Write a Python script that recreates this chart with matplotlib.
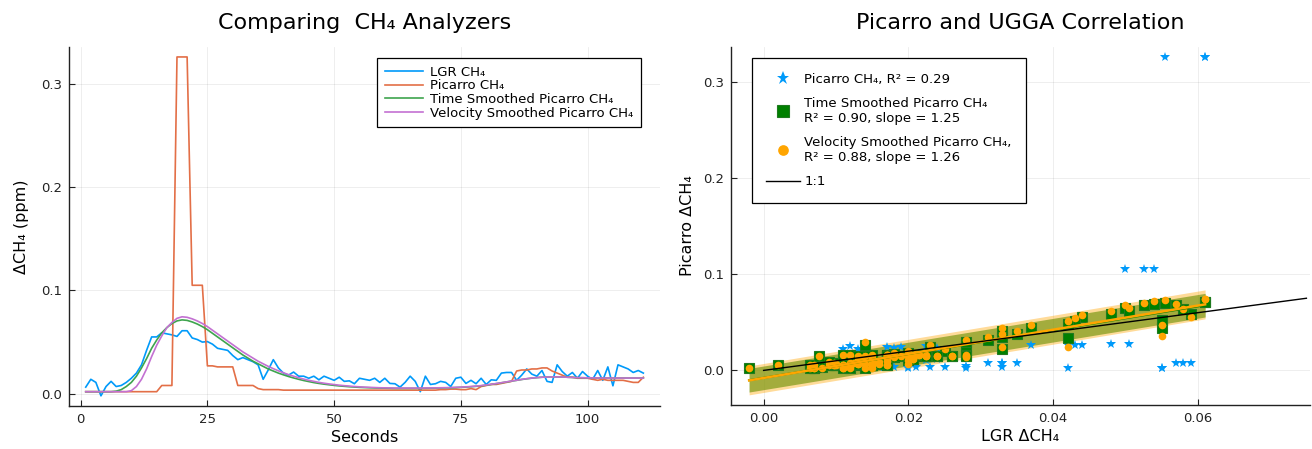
import numpy as np
import matplotlib
matplotlib.use('Agg')
import matplotlib.pyplot as plt

plt.rcParams['font.family'] = ['DejaVu Sans']

# seconds since start of the plume
seconds = np.arange(1, 112)

lgr = [0.0064, 0.014, 0.011, -0.002, 0.007, 0.012, 0.007, 0.008, 0.011, 0.015,
       0.02, 0.028, 0.042, 0.055, 0.055, 0.059, 0.058, 0.057, 0.0555, 0.061,
       0.061, 0.054, 0.0525, 0.05, 0.0505, 0.048, 0.044, 0.043, 0.042, 0.037,
       0.033, 0.035, 0.033, 0.031, 0.028, 0.014, 0.023, 0.033, 0.025, 0.02,
       0.018, 0.021, 0.017, 0.017, 0.015, 0.017, 0.0135, 0.017, 0.015, 0.013,
       0.016, 0.012, 0.0125, 0.0097, 0.015, 0.014, 0.013, 0.015, 0.011, 0.015,
       0.01, 0.0097, 0.0064, 0.011, 0.017, 0.012, 0.002, 0.017, 0.009, 0.0097,
       0.012, 0.011, 0.007, 0.015, 0.016, 0.01, 0.013, 0.0097, 0.015, 0.009,
       0.0135, 0.013, 0.02, 0.0206, 0.0206, 0.013, 0.018, 0.024, 0.019, 0.017,
       0.0225, 0.012, 0.011, 0.028, 0.0215, 0.017, 0.0206, 0.015, 0.0215, 0.017,
       0.014, 0.0225, 0.013, 0.026, 0.0077, 0.028, 0.026, 0.024, 0.0206, 0.0225,
       0.02]

picarro = [0.002, 0.002, 0.002, 0.002, 0.002, 0.002, 0.002, 0.002, 0.002, 0.002,
           0.002, 0.002, 0.002, 0.002, 0.002, 0.008, 0.008, 0.008, 0.326, 0.326,
           0.326, 0.105, 0.105, 0.105, 0.027, 0.027, 0.026, 0.026, 0.026, 0.026,
           0.008, 0.008, 0.008, 0.008, 0.005, 0.004, 0.004, 0.004, 0.004, 0.0035,
           0.0035, 0.0035, 0.0035, 0.0035, 0.0035, 0.0035, 0.0035, 0.0035, 0.0035, 0.0035,
           0.0035, 0.0035, 0.0035, 0.0035, 0.0035, 0.0035, 0.0035, 0.0035, 0.0035, 0.0035,
           0.0035, 0.0035, 0.0035, 0.0035, 0.0035, 0.0035, 0.0035, 0.0035, 0.0035, 0.0035,
           0.004, 0.004, 0.0045, 0.0045, 0.004, 0.004, 0.005, 0.004, 0.007, 0.008,
           0.009, 0.009, 0.01, 0.011, 0.012, 0.022, 0.023, 0.023, 0.024, 0.024,
           0.025, 0.025, 0.022, 0.02, 0.018, 0.016, 0.016, 0.015, 0.015, 0.015,
           0.014, 0.013, 0.014, 0.013, 0.013, 0.013, 0.013, 0.012, 0.011, 0.011,
           0.016]

time_smoothed = [0.002, 0.002, 0.002, 0.002, 0.002, 0.002, 0.0025, 0.004, 0.007, 0.011,
                 0.017, 0.025, 0.034, 0.044, 0.052, 0.059, 0.064, 0.068, 0.0705, 0.0715,
                 0.071, 0.0695, 0.0675, 0.065, 0.062, 0.0585, 0.055, 0.0515, 0.048, 0.0445,
                 0.041, 0.0375, 0.0345, 0.0315, 0.029, 0.0265, 0.024, 0.022, 0.02, 0.0183,
                 0.0167, 0.0153, 0.014, 0.0128, 0.0118, 0.0108, 0.01, 0.0093, 0.0087, 0.0081,
                 0.0076, 0.0072, 0.0068, 0.0065, 0.0062, 0.006, 0.0058, 0.0056, 0.0055, 0.0054,
                 0.0053, 0.0052, 0.0052, 0.0052, 0.0052, 0.0052, 0.0053, 0.0053, 0.0054, 0.0055,
                 0.0056, 0.0057, 0.0058, 0.006, 0.0062, 0.0065, 0.0068, 0.0072, 0.0077, 0.0083,
                 0.009, 0.0098, 0.0106, 0.0114, 0.0122, 0.013, 0.0138, 0.0145, 0.0151, 0.0156,
                 0.016, 0.0162, 0.0163, 0.0163, 0.0162, 0.016, 0.0158, 0.0156, 0.0155, 0.0154,
                 0.0153, 0.0152, 0.0152, 0.0152, 0.0152, 0.0152, 0.0152, 0.0152, 0.0152, 0.0152,
                 0.0152]

velocity_smoothed = [0.002, 0.002, 0.002, 0.002, 0.002, 0.002, 0.002, 0.002, 0.002, 0.003,
                     0.007, 0.014, 0.024, 0.036, 0.047, 0.056, 0.064, 0.069, 0.073, 0.0745,
                     0.074, 0.0725, 0.0705, 0.068, 0.065, 0.0615, 0.058, 0.0545, 0.051, 0.0475,
                     0.044, 0.0405, 0.0375, 0.0345, 0.0315, 0.029, 0.0265, 0.0243, 0.0222, 0.0203,
                     0.0185, 0.017, 0.0155, 0.0142, 0.013, 0.012, 0.011, 0.0102, 0.0095, 0.0089,
                     0.0083, 0.0078, 0.0074, 0.007, 0.0067, 0.0064, 0.0062, 0.006, 0.0058, 0.0057,
                     0.0056, 0.0055, 0.0055, 0.0055, 0.0055, 0.0055, 0.0055, 0.0056, 0.0056, 0.0057,
                     0.0058, 0.0059, 0.006, 0.0062, 0.0064, 0.0067, 0.007, 0.0074, 0.0079, 0.0085,
                     0.0092, 0.0099, 0.0107, 0.0115, 0.0123, 0.0131, 0.0139, 0.0146, 0.0152, 0.0157,
                     0.016, 0.0162, 0.0163, 0.0163, 0.0162, 0.016, 0.0158, 0.0156, 0.0155, 0.0154,
                     0.0153, 0.0153, 0.0152, 0.0152, 0.0152, 0.0152, 0.0152, 0.0152, 0.0152, 0.0152,
                     0.0152]

oneone = [0.0, 0.075]

labels_left = ['LGR CH₄', 'Picarro CH₄', 'Time Smoothed Picarro CH₄',
               'Velocity Smoothed Picarro CH₄']
label_stars = 'Picarro CH₄, R² = 0.29'
label_time = 'Time Smoothed Picarro CH₄\nR² = 0.90, slope = 1.25'
label_vel = 'Velocity Smoothed Picarro CH₄,\nR² = 0.88, slope = 1.26'

c_blue, c_red, c_green, c_purple = '#009AFA', '#E36F47', '#3EA44E', '#C371D2'


def style_axes(ax):
    for s in ['top', 'right']:
        ax.spines[s].set_visible(False)
    for s in ['left', 'bottom']:
        ax.spines[s].set_color('#222222')
        ax.spines[s].set_linewidth(1.0)
    ax.grid(True, color='black', alpha=0.08, linewidth=0.6)
    ax.set_axisbelow(True)
    ax.tick_params(direction='in', length=4, width=0.8, labelsize=9.5,
                   colors='#222222', pad=5)


def fit_band(x, y):
    slope, icpt = np.polyfit(x, y, 1)
    xs = np.array([min(x), max(x)])
    resid = np.array(y) - (slope * np.array(x) + icpt)
    half = 2.1 * resid.std()
    return xs, slope * xs + icpt, half


fig = plt.figure(figsize=(13.12, 4.49), dpi=100)
ax1 = fig.add_axes([0.0526, 0.0958, 0.4505, 0.800])
ax2 = fig.add_axes([0.5572, 0.0980, 0.4413, 0.798])

#
# left: time series
#
ax1.plot(seconds, lgr, color=c_blue, lw=1.2, label=labels_left[0])
ax1.plot(seconds, picarro, color=c_red, lw=1.2, label=labels_left[1])
ax1.plot(seconds, time_smoothed, color=c_green, lw=1.2, label=labels_left[2])
ax1.plot(seconds, velocity_smoothed, color=c_purple, lw=1.2, label=labels_left[3])
style_axes(ax1)
ax1.margins(x=0.03, y=0.03)
ax1.set_xticks([0, 25, 50, 75, 100])
ax1.set_yticks([0.0, 0.1, 0.2, 0.3])
ax1.set_yticklabels(['0.0', '0.1', '0.2', '0.3'])
ax1.set_xlabel('Seconds', fontsize=11.5, labelpad=3)
ax1.set_ylabel('ΔCH₄ (ppm)', fontsize=11.5, labelpad=9)
ax1.set_title('Comparing  CH₄ Analyzers', fontsize=16, pad=13)
leg1 = ax1.legend(loc='upper right', bbox_to_anchor=(0.967, 0.968),
                  borderaxespad=0, fontsize=9.5, handlelength=2.9,
                  handletextpad=0.55, labelspacing=0.05, fancybox=False,
                  framealpha=1, edgecolor='black', borderpad=0.55)
leg1.get_frame().set_linewidth(0.9)

#
# right: correlation
#
xs_t, ys_t, half_t = fit_band(lgr, time_smoothed)
xs_v, ys_v, half_v = fit_band(lgr, velocity_smoothed)

ax2.plot(lgr, picarro, linestyle='none', marker='*', ms=7, color=c_blue,
         markeredgewidth=0, label=label_stars)
ax2.fill_between(xs_t, ys_t - half_t, ys_t + half_t, color='green',
                 alpha=0.6, linewidth=0)
ax2.fill_between(xs_v, ys_v - half_v, ys_v + half_v, color='orange',
                 alpha=0.4, linewidth=0)
ax2.plot(lgr, time_smoothed, linestyle='none', marker='s', ms=6.5,
         color='green', markeredgecolor='#1f7a1f', markeredgewidth=0.8,
         label=label_time)
ax2.plot(lgr, velocity_smoothed, linestyle='none', marker='o', ms=5.5,
         color='orange', markeredgewidth=0, label=label_vel)
ax2.plot(xs_t, ys_t, color='green', lw=1.5)
ax2.plot(xs_v, ys_v, color='orange', lw=1.8)
ax2.plot(oneone, oneone, color='black', lw=1.0, label='1:1')
style_axes(ax2)
ax2.margins(y=0.03)
ax2.set_xlim(-0.0045, 0.0755)
ax2.set_xticks([0.0, 0.02, 0.04, 0.06])
ax2.set_xticklabels(['0.00', '0.02', '0.04', '0.06'])
ax2.set_yticks([0.0, 0.1, 0.2, 0.3])
ax2.set_yticklabels(['0.0', '0.1', '0.2', '0.3'])
ax2.set_xlabel('LGR ΔCH₄', fontsize=11.5, labelpad=3)
ax2.set_ylabel('Picarro ΔCH₄', fontsize=11.5, labelpad=6)
ax2.set_title('Picarro and UGGA Correlation', fontsize=16, pad=13)
leg2 = ax2.legend(loc='upper left', bbox_to_anchor=(0.0354, 0.968),
                  borderaxespad=0, fontsize=9.5, handlelength=2.6,
                  handletextpad=0.3, labelspacing=0.85, fancybox=False,
                  framealpha=1, edgecolor='black', borderpad=1.1,
                  markerscale=1.4)
leg2.get_frame().set_linewidth(0.9)

fig.savefig('out.png', dpi=100)
